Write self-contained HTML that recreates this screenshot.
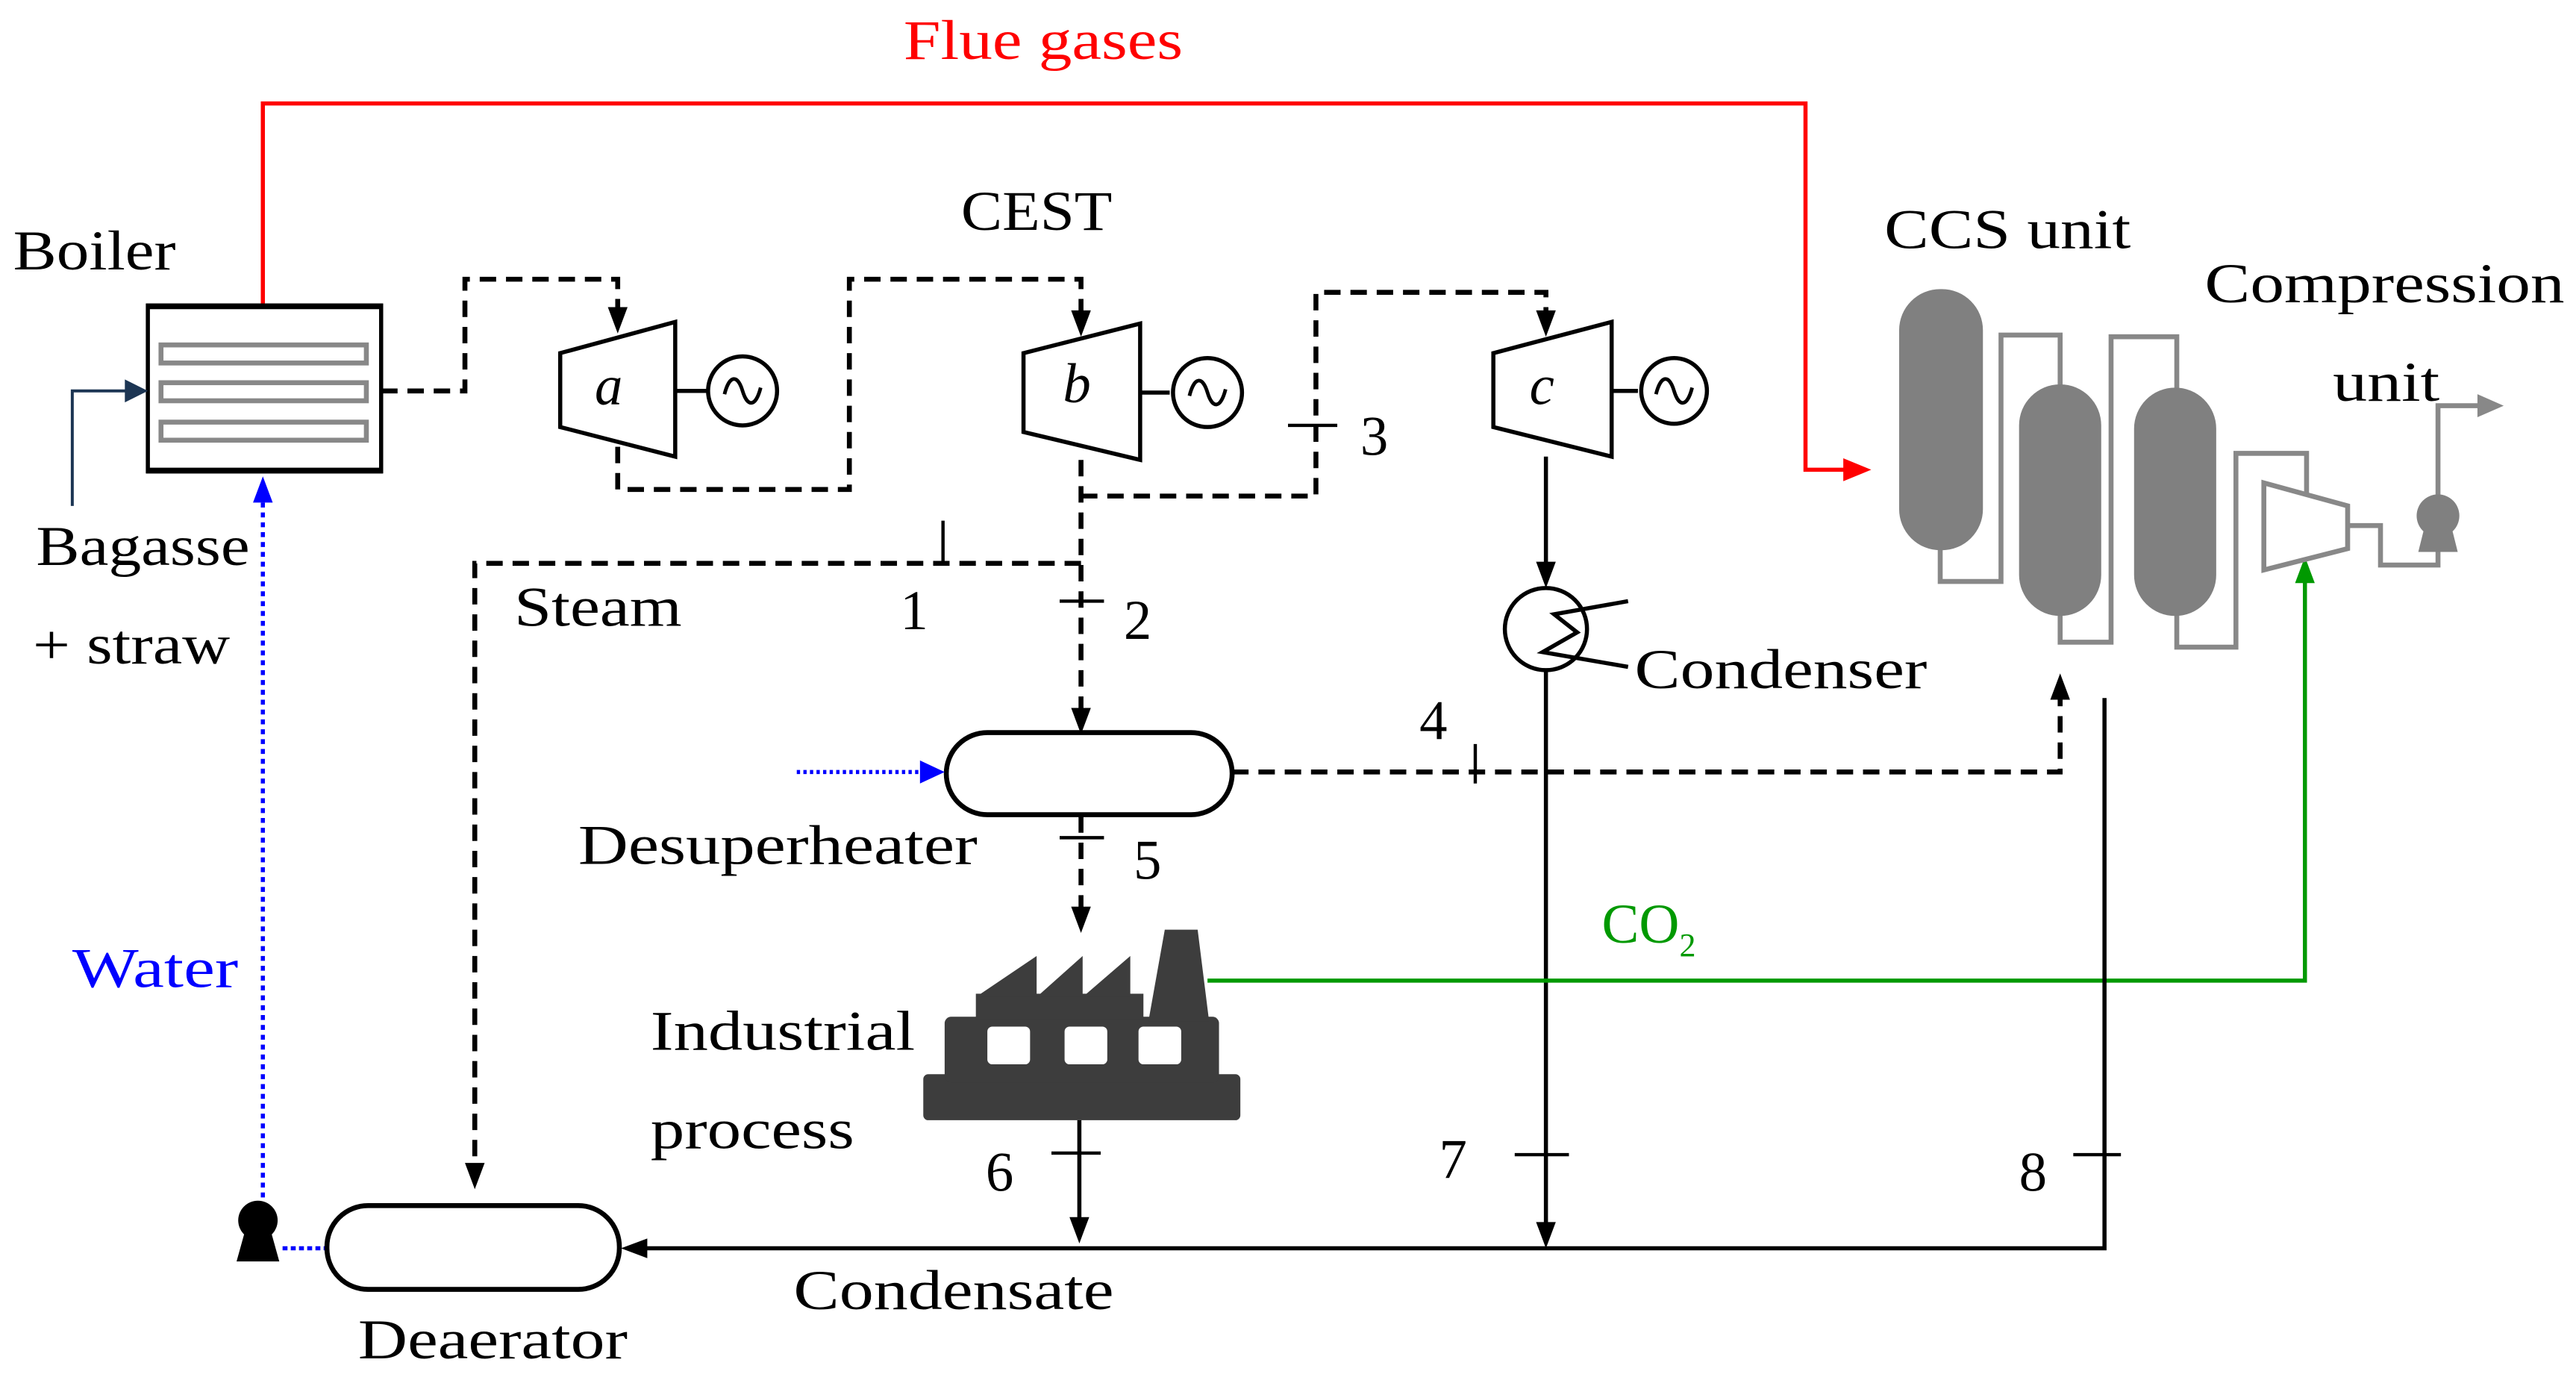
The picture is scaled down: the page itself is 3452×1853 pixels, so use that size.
<!DOCTYPE html>
<html><head><meta charset="utf-8"><style>
html,body{margin:0;padding:0;background:#fff;}
svg{display:block;}
text{font-family:"Liberation Serif",serif;font-size:34px;fill:#000;}
</style></head><body>
<svg width="3452" height="1853" viewBox="0 0 1568 842" preserveAspectRatio="none" xmlns="http://www.w3.org/2000/svg">
<g fill="none" stroke-linejoin="miter">
<polyline points="160,186 160,63 1099,63 1099,286 1126,286" stroke="#f00" stroke-width="2.5"/>
<polygon points="1139,286 1122,279 1122,293" fill="#f00"/>
<rect x="90" y="186" width="142" height="101" stroke="#000" stroke-width="2.5" fill="#fff"/>
<line x1="89" y1="186.5" x2="233" y2="186.5" stroke="#000" stroke-width="3.5"/>
<line x1="89" y1="286.5" x2="233" y2="286.5" stroke="#000" stroke-width="3.5"/>
<rect x="98" y="210" width="125" height="11" stroke="#888" stroke-width="3"/>
<rect x="98" y="233" width="125" height="11" stroke="#888" stroke-width="3"/>
<rect x="98" y="257" width="125" height="11" stroke="#888" stroke-width="3"/>
<polyline points="44,308 44,238 78,238" stroke="#1c3553" stroke-width="1.8"/>
<polygon points="90,238 76,231 76,245" fill="#1c3553"/>
<line x1="160" y1="735" x2="160" y2="305" stroke="#00f" stroke-width="2.5" stroke-dasharray="3,3"/>
<polygon points="160,290 154,306 166,306" fill="#00f"/>
<line x1="172" y1="760" x2="198" y2="760" stroke="#00f" stroke-width="2.5" stroke-dasharray="3,2"/>
<circle cx="157" cy="743" r="12" fill="#000"/>
<polygon points="149,750 165,750 170,768 144,768" fill="#000"/>
<g stroke="#000" stroke-width="3" stroke-dasharray="10,6">
<polyline points="232,238 283,238 283,170 376,170 376,190"/>
<polyline points="376,272 376,298 517,298 517,170 658,170 658,192"/>
<polyline points="658,280 658,435"/>
<polyline points="658,302 801,302 801,178 941,178 941,192"/>
<polyline points="658,343 289,343 289,710"/>
<polyline points="750,470 1254,470 1254,425"/>
<polyline points="658,497 658,555"/>
</g>
<g fill="#000">
<polygon points="376,203 370,187 382,187"/>
<polygon points="658,205 652,189 664,189"/>
<polygon points="941,205 935,189 947,189"/>
<polygon points="658,447 652,431 664,431"/>
<polygon points="289,724 283,708 295,708"/>
<polygon points="1254,410 1248,426 1260,426"/>
<polygon points="658,568 652,552 664,552"/>
</g>
<g stroke="#000" stroke-width="2">
<line x1="574" y1="317" x2="574" y2="343"/>
<line x1="645" y1="366" x2="672" y2="366"/>
<line x1="784" y1="259" x2="814" y2="259"/>
<line x1="898" y1="453" x2="898" y2="477"/>
<line x1="645" y1="510" x2="672" y2="510"/>
<line x1="640" y1="702" x2="670" y2="702"/>
<line x1="922" y1="703" x2="955" y2="703"/>
<line x1="1262" y1="703" x2="1291" y2="703"/>
</g>
<g stroke="#000" stroke-width="2.5" fill="#fff">
<polygon points="341,215 411,196 411,278 341,260"/>
<polygon points="623,215 694,197 694,280 623,263"/>
<polygon points="909,215 981,196 981,278 909,260"/>
<line x1="411" y1="238" x2="430" y2="238"/>
<line x1="694" y1="239" x2="712" y2="239"/>
<line x1="981" y1="238" x2="997" y2="238"/>
<circle cx="452" cy="238" r="21"/>
<circle cx="735" cy="239" r="21"/>
<circle cx="1019" cy="238" r="20"/>
</g>
<g stroke="#000" stroke-width="2.2">
<path d="M441,240 C444,228 449,228 452,238 C455,248 460,248 463,236"/>
<path d="M724,241 C727,229 732,229 735,239 C738,249 743,249 746,237"/>
<path d="M1008,240 C1011,228 1016,228 1019,238 C1022,248 1027,248 1030,236"/>
</g>
<line x1="941" y1="278" x2="941" y2="345" stroke="#000" stroke-width="2.5"/>
<polygon points="941,358 935,342 947,342" fill="#000"/>
<circle cx="941" cy="383" r="25" stroke="#000" stroke-width="2.5" fill="#fff"/>
<polyline points="991,366 946,374 960,385 939,397 991,406" stroke="#000" stroke-width="2.5"/>
<line x1="941" y1="408" x2="941" y2="745" stroke="#000" stroke-width="2.5"/>
<polygon points="941,760 935,744 947,744" fill="#000"/>
<rect x="576" y="446" width="174" height="50" rx="25" stroke="#000" stroke-width="3" fill="#fff"/>
<line x1="485" y1="470" x2="562" y2="470" stroke="#00f" stroke-width="2.5" stroke-dasharray="2,2"/>
<polygon points="575,470 560,463 560,477" fill="#00f"/>
<polyline points="735,597 1403,597 1403,352" stroke="#090" stroke-width="2.5"/>
<polygon points="1403,339 1397,355 1409,355" fill="#090"/>
<g fill="#3d3d3d">
<rect x="562" y="654" width="193" height="28" rx="3"/>
<rect x="575" y="619" width="167" height="40" rx="4"/>
<rect x="594" y="605" width="102" height="16"/>
<polygon points="594,607 631,582 631,607"/>
<polygon points="631,607 659,582 659,607"/>
<polygon points="659,607 688,582 688,607"/>
<polygon points="699,622 709,566 729,566 736,622"/>
</g>
<g fill="#fff">
<rect x="601" y="625" width="26" height="23" rx="3"/>
<rect x="648" y="625" width="26" height="23" rx="3"/>
<rect x="693" y="625" width="26" height="23" rx="3"/>
</g>
<line x1="657" y1="682" x2="657" y2="743" stroke="#000" stroke-width="2.5"/>
<polygon points="657,757 651,741 663,741" fill="#000"/>
<polyline points="1281,425 1281,760 392,760" stroke="#000" stroke-width="2.5"/>
<polygon points="378,760 394,754 394,766" fill="#000"/>
<rect x="199" y="734" width="178" height="51" rx="25" stroke="#000" stroke-width="3" fill="#fff"/>
<g stroke="#888" stroke-width="3">
<polyline points="1181,330 1181,354 1218,354 1218,204 1254,204 1254,240"/>
<polyline points="1254,370 1254,391 1285,391 1285,205 1325,205 1325,240"/>
<polyline points="1325,370 1325,394 1361,394 1361,276 1404,276 1404,300"/>
<polyline points="1429,320 1449,320 1449,344 1484,344 1484,330"/>
<polyline points="1484,305 1484,247 1512,247"/>
</g>
<polygon points="1524,247 1508,240 1508,254" fill="#888"/>
<g fill="#808080">
<rect x="1156" y="176" width="51" height="159" rx="25"/>
<rect x="1229" y="234" width="50" height="141" rx="25"/>
<rect x="1299" y="236" width="50" height="139" rx="25"/>
<circle cx="1484" cy="314" r="13"/>
<polygon points="1476,320 1492,320 1496,336 1472,336"/>
</g>
<polygon points="1378,294 1429,308 1429,334 1378,347" stroke="#888" stroke-width="3" fill="#fff"/>
</g>
<text x="550" y="36" style="fill:#f00" textLength="170" lengthAdjust="spacingAndGlyphs">Flue gases</text>
<text x="8" y="164" textLength="99" lengthAdjust="spacingAndGlyphs">Boiler</text>
<text x="585" y="140" textLength="92" lengthAdjust="spacingAndGlyphs">CEST</text>
<text x="1147" y="151" textLength="150" lengthAdjust="spacingAndGlyphs">CCS unit</text>
<text x="1342" y="184" textLength="219" lengthAdjust="spacingAndGlyphs">Compression</text>
<text x="1420" y="244" textLength="65" lengthAdjust="spacingAndGlyphs">unit</text>
<text x="22" y="344" textLength="130" lengthAdjust="spacingAndGlyphs">Bagasse</text>
<text x="20" y="404" textLength="120" lengthAdjust="spacingAndGlyphs">+ straw</text>
<text x="313" y="381" textLength="102" lengthAdjust="spacingAndGlyphs">Steam</text>
<text x="548" y="383">1</text>
<text x="684" y="389">2</text>
<text x="828" y="277">3</text>
<text x="864" y="450">4</text>
<text x="690" y="535">5</text>
<text x="600" y="725">6</text>
<text x="876" y="717">7</text>
<text x="1229" y="725">8</text>
<text x="995" y="419" textLength="178" lengthAdjust="spacingAndGlyphs">Condenser</text>
<text x="352" y="526" textLength="243" lengthAdjust="spacingAndGlyphs">Desuperheater</text>
<text x="975" y="574" style="fill:#090">CO<tspan font-size="20" dy="8">2</tspan></text>
<text x="44" y="601" style="fill:#00f" textLength="101" lengthAdjust="spacingAndGlyphs">Water</text>
<text x="396" y="639" textLength="161" lengthAdjust="spacingAndGlyphs">Industrial</text>
<text x="396" y="699" textLength="124" lengthAdjust="spacingAndGlyphs">process</text>
<text x="483" y="797" textLength="195" lengthAdjust="spacingAndGlyphs">Condensate</text>
<text x="218" y="827" textLength="164" lengthAdjust="spacingAndGlyphs">Deaerator</text>
<text x="362" y="246" font-style="italic">a</text>
<text x="647" y="245" font-style="italic">b</text>
<text x="931" y="246" font-style="italic">c</text>
</svg>
</body></html>
